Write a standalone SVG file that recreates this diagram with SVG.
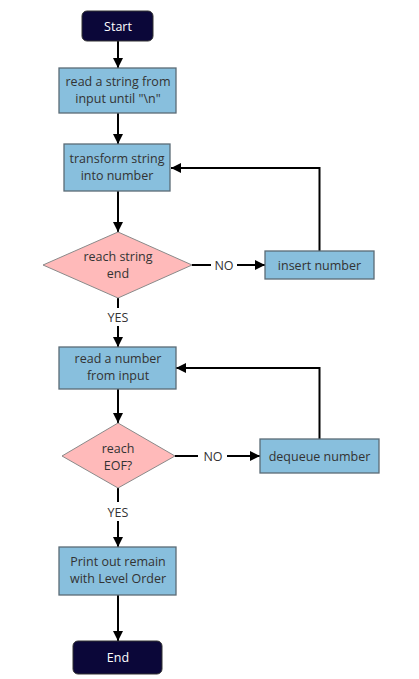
<svg xmlns="http://www.w3.org/2000/svg" width="419" height="679" viewBox="0 0 419 679">
<defs>
<marker id="ah" markerUnits="userSpaceOnUse" markerWidth="10" markerHeight="10" refX="10" refY="5" orient="auto">
<path d="M0,0 L10,5 L0,10 z" fill="#000"/>
</marker>
<style>
.box{fill:#88bfdd;stroke:#5b6b76;stroke-width:1.3}
.dia{fill:#ffbaba;stroke:#8a8a8a;stroke-width:1}
.term{fill:#0b0739;stroke:#333;stroke-width:1}
text{font-family:"Open Sans","Noto Sans",sans-serif;font-size:12.5px;text-anchor:middle;fill:#333}
.wt{fill:#fff}
.ln{fill:none;stroke:#000;stroke-width:2}
.arr{marker-end:url(#ah)}
</style>
</defs>
<rect width="419" height="679" fill="#fff"/>
<g id="connectors">
<line class="ln arr" x1="118" y1="41" x2="118" y2="68"/>
<line class="ln arr" x1="118" y1="113" x2="118" y2="144"/>
<line class="ln arr" x1="118" y1="191" x2="118" y2="232"/>
<line class="ln" x1="192" y1="265" x2="211" y2="265"/>
<line class="ln arr" x1="237" y1="265" x2="265" y2="265"/>
<polyline class="ln arr" points="319.5,251 319.5,168 171,168"/>
<line class="ln" x1="118" y1="298" x2="118" y2="308"/>
<line class="ln arr" x1="118" y1="326" x2="118" y2="347"/>
<line class="ln arr" x1="118" y1="389" x2="118" y2="423"/>
<line class="ln" x1="175" y1="456" x2="198" y2="456"/>
<line class="ln arr" x1="227" y1="456" x2="260" y2="456"/>
<polyline class="ln arr" points="319.5,439 319.5,368 176,368"/>
<line class="ln" x1="118" y1="488" x2="118" y2="502"/>
<line class="ln arr" x1="118" y1="521" x2="118" y2="547"/>
<line class="ln arr" x1="118" y1="595" x2="118" y2="641"/>
<text x="224" y="269.5">NO</text>
<text x="118" y="321.5">YES</text>
<text x="213" y="460.5">NO</text>
<text x="118" y="516.5">YES</text>
</g>
<g id="start">
<rect class="term" x="82" y="11" width="71" height="30" rx="5"/>
<text class="wt" x="118" y="30.5">Start</text>
</g>
<g id="read-string">
<rect class="box" x="59" y="68" width="117" height="45"/>
<text x="118" y="86">read a string from</text>
<text x="118" y="103">input until "\n"</text>
</g>
<g id="transform">
<rect class="box" x="64" y="144" width="106" height="47"/>
<text x="117" y="163">transform string</text>
<text x="117" y="180">into number</text>
</g>
<g id="reach-end">
<polygon class="dia" points="118,232 192,265 118,298 43,265"/>
<text x="118" y="261">reach string</text>
<text x="118" y="278">end</text>
</g>
<g id="insert">
<rect class="box" x="265" y="251" width="109" height="28"/>
<text x="319.5" y="269.5">insert number</text>
</g>
<g id="read-number">
<rect class="box" x="59" y="347" width="117" height="42"/>
<text x="118" y="362.5">read a number</text>
<text x="118" y="379.5">from input</text>
</g>
<g id="reach-eof">
<polygon class="dia" points="118,423 175,456 118,488 62,456"/>
<text x="118" y="452.5">reach</text>
<text x="118" y="470">EOF?</text>
</g>
<g id="dequeue">
<rect class="box" x="260" y="439" width="119" height="34"/>
<text x="319.5" y="460.5">dequeue number</text>
</g>
<g id="print">
<rect class="box" x="59" y="547" width="117" height="48"/>
<text x="118" y="566">Print out remain</text>
<text x="118" y="583">with Level Order</text>
</g>
<g id="end">
<rect class="term" x="73" y="641" width="89" height="33" rx="5"/>
<text class="wt" x="118" y="661.5">End</text>
</g>
</svg>
